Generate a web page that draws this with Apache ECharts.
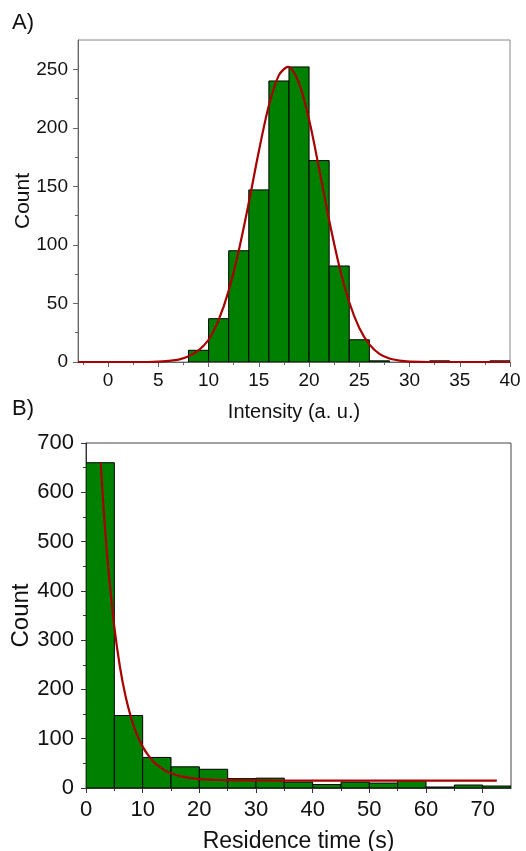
<!DOCTYPE html>
<html>
<head>
<meta charset="utf-8">
<script src="https://cdn.jsdelivr.net/npm/echarts@6/dist/echarts.min.js"></script>
<style>
  html, body { margin: 0; padding: 0; background: #fff; }
  #chart { width: 526px; height: 851px; }
</style>
</head>
<body>
<div id="chart"></div>
<script>
// panel A: intensity histogram (bin width 2) + gaussian fit
var binStartA = [8, 10, 12, 14, 16, 18, 20, 22, 24, 26, 32, 38];
var countA = [10, 37, 95, 147, 240, 252, 172, 82, 19, 1, 1, 1];
var binWidthA = 2;
var fitXA = [-3, 0, 4, 5, 6, 7, 8, 9, 10, 11, 12, 13, 14, 15, 16, 17, 17.9, 19, 20, 21, 22, 23, 24, 25, 26, 27, 28, 29, 30, 32, 35, 40];
var fitYA = [0, 0, 0, 0.3, 1, 2, 5, 10, 19, 36, 61, 95, 136, 180, 219, 245, 252, 238, 207, 165, 121, 82, 51, 29, 15, 7, 3, 1.2, 0.4, 0, 0, 0];
var xTicksA = [0, 5, 10, 15, 20, 25, 30, 35, 40];
var xMinorA = [-2.5, 2.5, 7.5, 12.5, 17.5, 22.5, 27.5, 32.5, 37.5];
var yTicksA = [0, 50, 100, 150, 200, 250];
var yMinorA = [25, 75, 125, 175, 225];

// panel B: residence time histogram (bin width 5) + exponential fit
var binStartB = [0, 5, 10, 15, 20, 25, 30, 35, 40, 45, 50, 55, 60, 65, 70];
var countB = [660, 147, 62, 43, 38, 19, 20, 12, 7, 12, 10, 15, 2, 6, 4];
var binWidthB = 5;
var fitXB = [2.6, 3, 3.5, 4, 5, 6, 7, 8, 9, 10, 11, 12, 13, 14, 15, 17, 20, 25, 30, 40, 50, 60, 72.5];
var fitYB = [660, 585, 505, 437, 327, 245, 185, 141, 108, 84, 66, 52, 43, 35, 30, 23, 18, 16, 15.3, 15, 15, 15, 15];
var xTicksB = [0, 10, 20, 30, 40, 50, 60, 70];
var xMinorB = [5, 15, 25, 35, 45, 55, 65];
var yTicksB = [0, 100, 200, 300, 400, 500, 600, 700];
var yMinorB = [50, 150, 250, 350, 450, 550, 650];

var green = '#008000';
var red = '#a80000';
var font = 'Liberation Sans, Arial, sans-serif';

function zip(a, b) {
  var out = [];
  for (var i = 0; i < a.length; i++) out.push([a[i], b[i]]);
  return out;
}

function histItem(width) {
  return function (params, api) {
    var x0 = api.value(0);
    var p0 = api.coord([x0, api.value(1)]);
    var p1 = api.coord([x0 + width, 0]);
    return {
      type: 'rect',
      shape: { x: p0[0], y: p0[1], width: p1[0] - p0[0], height: p1[1] - p0[1] },
      style: { fill: green, stroke: '#000', lineWidth: 1 }
    };
  };
}

function mainX(grid, min, max, ticks, name, color, size, nameSize, gap, margin) {
  return {
    type: 'value', gridIndex: grid, position: 'bottom', min: min, max: max,
    name: name, nameLocation: 'middle', nameGap: gap, nameMoveOverlap: false,
    nameTextStyle: { fontFamily: font, fontSize: nameSize, color: '#111' },
    axisLine: { onZero: false, lineStyle: { color: color, width: 1 } },
    axisTick: { customValues: ticks, length: 5, lineStyle: { color: color } },
    axisLabel: { customValues: ticks, margin: margin, fontFamily: font, fontSize: size, color: '#111' },
    splitLine: { show: false }
  };
}
function mainY(grid, min, max, ticks, name, color, size, nameSize, gap, margin) {
  return {
    type: 'value', gridIndex: grid, position: 'left', min: min, max: max,
    name: name, nameLocation: 'middle', nameGap: gap, nameMoveOverlap: false,
    nameTextStyle: { fontFamily: font, fontSize: nameSize, color: '#111' },
    axisLine: { onZero: false, lineStyle: { color: color, width: 1 } },
    axisTick: { customValues: ticks, length: 5, lineStyle: { color: color } },
    axisLabel: { customValues: ticks, margin: margin, fontFamily: font, fontSize: size, color: '#111' },
    splitLine: { show: false }
  };
}
function minorAxis(grid, pos, min, max, ticks, color) {
  return {
    type: 'value', gridIndex: grid, position: pos, min: min, max: max,
    axisLine: { show: false, onZero: false },
    axisTick: { customValues: ticks, length: 3, lineStyle: { color: color } },
    axisLabel: { show: false },
    splitLine: { show: false }
  };
}

var chart = echarts.init(document.getElementById('chart'));
chart.setOption({
  animation: false,
  title: [
    { text: 'A)', left: 12, top: 12, padding: 0, textStyle: { fontFamily: font, fontSize: 22, fontWeight: 'normal', color: '#111' } },
    { text: 'B)', left: 12, top: 398, padding: 0, textStyle: { fontFamily: font, fontSize: 22, fontWeight: 'normal', color: '#111' } }
  ],
  grid: [
    { left: 78, top: 40, width: 432, height: 322, outerBoundsMode: 'none', show: true, borderColor: '#888', borderWidth: 1 },
    { left: 86, top: 443, width: 425, height: 345, outerBoundsMode: 'none', show: true, borderColor: '#444', borderWidth: 1 }
  ],
  xAxis: [
    mainX(0, -3, 40, xTicksA, 'Intensity (a. u.)', '#666', 19, 20, 40, 9),
    minorAxis(0, 'bottom', -3, 40, xMinorA, '#666'),
    mainX(1, 0, 75, xTicksB, 'Residence time (s)', '#333', 22, 23, 42, 11),
    minorAxis(1, 'bottom', 0, 75, xMinorB, '#333')
  ],
  yAxis: [
    mainY(0, 0, 275, yTicksA, 'Count', '#666', 19, 21, 44, 10),
    minorAxis(0, 'left', 0, 275, yMinorA, '#666'),
    mainY(1, 0, 700, yTicksB, 'Count', '#333', 22, 24, 53, 12),
    minorAxis(1, 'left', 0, 700, yMinorB, '#333')
  ],
  series: [
    {
      type: 'custom', xAxisIndex: 0, yAxisIndex: 0, clip: true,
      renderItem: histItem(binWidthA), data: zip(binStartA, countA),
      encode: { x: 0, y: 1 }
    },
    {
      type: 'line', xAxisIndex: 0, yAxisIndex: 0, data: zip(fitXA, fitYA),
      smooth: 0.3, showSymbol: false, lineStyle: { color: red, width: 2.2 }
    },
    {
      type: 'custom', xAxisIndex: 2, yAxisIndex: 2, clip: true,
      renderItem: histItem(binWidthB), data: zip(binStartB, countB),
      encode: { x: 0, y: 1 }
    },
    {
      type: 'line', xAxisIndex: 2, yAxisIndex: 2, data: zip(fitXB, fitYB),
      smooth: 0.3, showSymbol: false, lineStyle: { color: red, width: 2.2 }
    }
  ]
});
</script>
</body>
</html>
